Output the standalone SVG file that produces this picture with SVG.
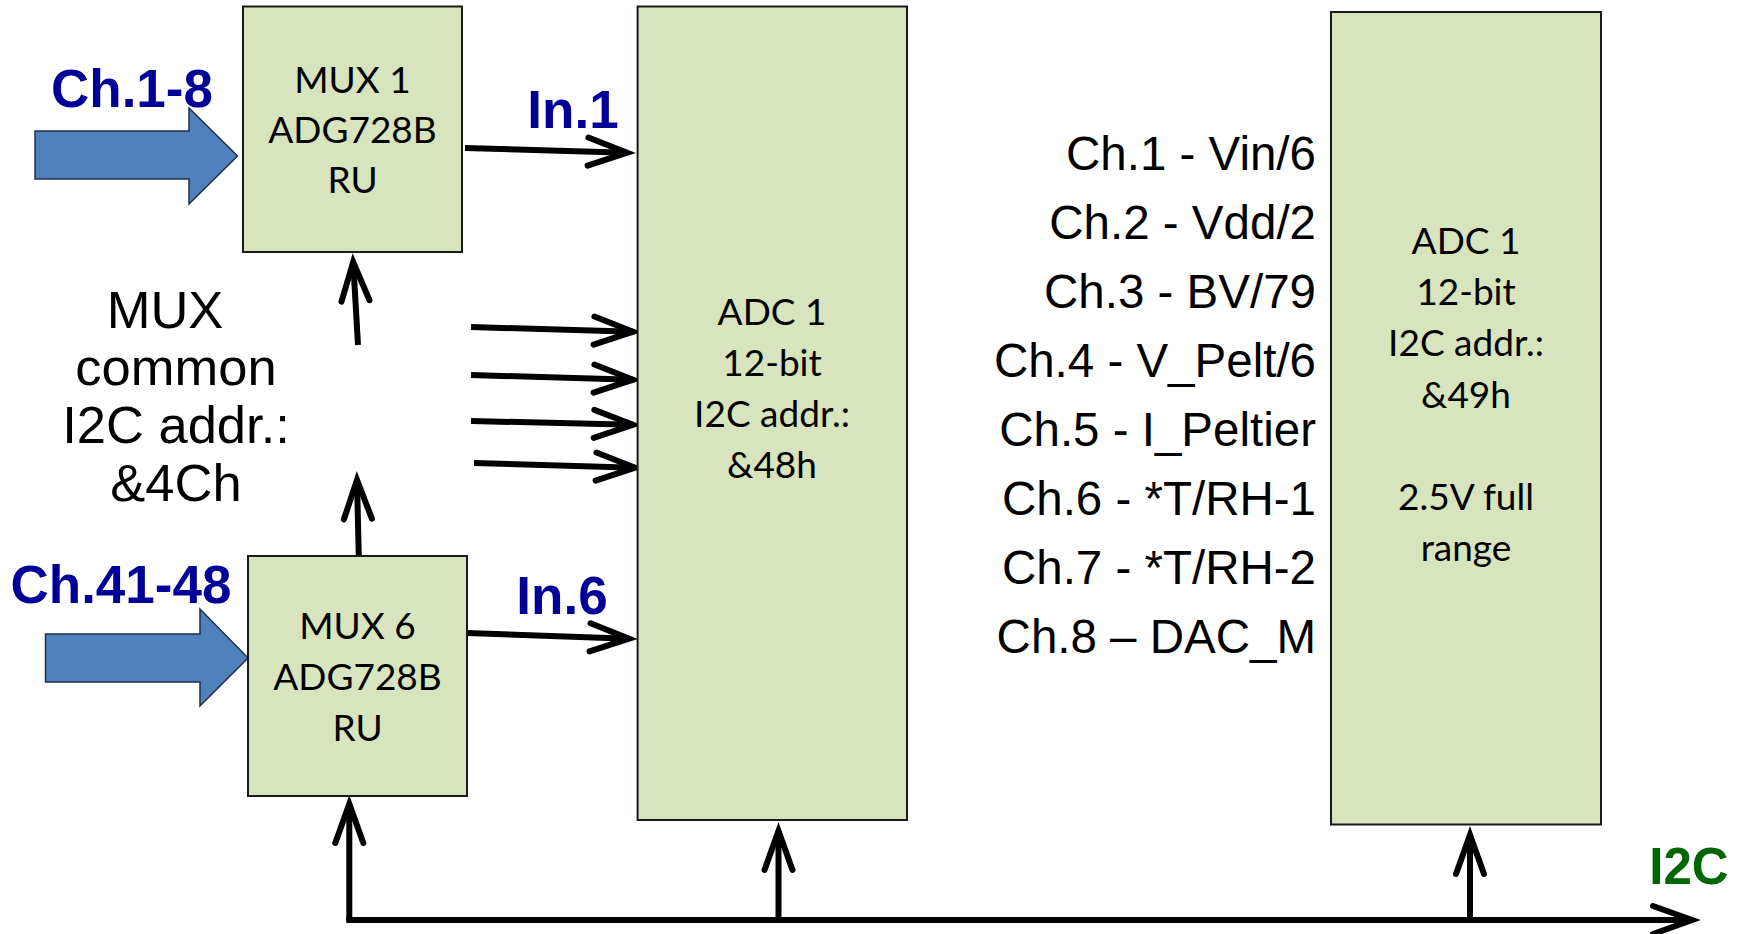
<svg xmlns="http://www.w3.org/2000/svg" width="1747" height="934" viewBox="0 0 1747 934">
<style>
.box{fill:#D7E4BD;stroke:#1a1a1a;stroke-width:2}
.cal{font-family:Lato,"Open Sans","Liberation Sans",sans-serif;font-size:37px;fill:#000;text-anchor:middle}
.ari{font-family:"Liberation Sans",Arial,sans-serif;fill:#000}
.chl{font-size:47.5px;text-anchor:end}
.mux{font-size:52.5px;text-anchor:middle}
.blu{font-family:"Liberation Sans",Arial,sans-serif;font-weight:bold;font-size:53px;fill:#000099}
.grn{font-family:"Liberation Sans",Arial,sans-serif;font-weight:bold;font-size:51px;fill:#006600}
.big{fill:#4F81BD;stroke:#1F2F4A;stroke-width:1.5}
.wire{fill:none;stroke:#000;stroke-width:6;marker-end:url(#ah)}
</style>
<defs>
<marker id="ah" markerUnits="userSpaceOnUse" viewBox="-60 -20 70 40" markerWidth="70" markerHeight="40" refX="-9" refY="0" orient="auto" overflow="visible">
<path d="M-48,-14 L-9,0 L-48,14" fill="none" stroke="#000" stroke-width="6" stroke-linecap="round" stroke-linejoin="miter"/>
</marker>
</defs>
<rect width="1747" height="934" fill="#fff"/>

<g id="connectors">
<polygon class="big" points="35,131 189,131 189,108 237.5,156 189,204 189,179 35,179"/>
<polygon class="big" points="45.5,634 200,634 200,609 248,658 200,706 200,682 45.5,682"/>
<line class="wire" x1="465" y1="148" x2="627" y2="152.7"/>
<line class="wire" x1="471" y1="327" x2="633" y2="331.7"/>
<line class="wire" x1="471" y1="375" x2="633" y2="379.7"/>
<line class="wire" x1="471" y1="421" x2="633" y2="424.8"/>
<line class="wire" x1="474" y1="463" x2="635" y2="467.7"/>
<line class="wire" x1="467" y1="633" x2="629" y2="638.7"/>
<line class="wire" x1="358" y1="345" x2="353.2" y2="262"/>
<line class="wire" x1="358.8" y1="557" x2="357" y2="480"/>
<line class="wire" x1="349.3" y1="921" x2="349.3" y2="804"/>
<line class="wire" x1="778.5" y1="921" x2="778.5" y2="831"/>
<line class="wire" x1="1470" y1="921" x2="1470" y2="835"/>
<line class="wire" x1="346.3" y1="920" x2="1692" y2="920"/>
</g>

<g id="mux1">
<rect class="box" x="243" y="6.5" width="219" height="245.5"/>
<text class="cal" x="352.5" y="93">MUX 1</text>
<text class="cal" x="352.5" y="143">ADG728B</text>
<text class="cal" x="352.5" y="193">RU</text>
</g>

<g id="mux6">
<rect class="box" x="248" y="556" width="219" height="240"/>
<text class="cal" x="357.5" y="639">MUX 6</text>
<text class="cal" x="357.5" y="690">ADG728B</text>
<text class="cal" x="357.5" y="741">RU</text>
</g>

<g id="adc1">
<rect class="box" x="637.6" y="6.5" width="269.4" height="813.5"/>
<text class="cal" x="772" y="325">ADC 1</text>
<text class="cal" x="772" y="376">12-bit</text>
<text class="cal" x="772" y="427">I2C addr.:</text>
<text class="cal" x="772" y="478">&amp;48h</text>
</g>

<g id="adc2">
<rect class="box" x="1331" y="12" width="270" height="812.5"/>
<text class="cal" x="1466" y="254">ADC 1</text>
<text class="cal" x="1466" y="305">12-bit</text>
<text class="cal" x="1466" y="356">I2C addr.:</text>
<text class="cal" x="1466" y="408">&amp;49h</text>
<text class="cal" x="1466" y="510">2.5V full</text>
<text class="cal" x="1466" y="561">range</text>
</g>

<g id="labels">
<text class="blu" x="51" y="107">Ch.1-8</text>
<text class="blu" x="573" y="128" text-anchor="middle">In.1</text>
<text class="blu" x="10.5" y="603">Ch.41-48</text>
<text class="blu" x="562" y="614" text-anchor="middle">In.6</text>
<text class="grn" x="1689" y="884" text-anchor="middle">I2C</text>
</g>

<g id="mux-common">
<text class="ari mux" x="165" y="328">MUX</text>
<text class="ari mux" x="176" y="385">common</text>
<text class="ari mux" x="176" y="443">I2C addr.:</text>
<text class="ari mux" x="176" y="501">&amp;4Ch</text>
</g>

<g id="channels">
<text class="ari chl" x="1316" y="169.5">Ch.1 - Vin/6</text>
<text class="ari chl" x="1316" y="238.5">Ch.2 - Vdd/2</text>
<text class="ari chl" x="1316" y="307.5">Ch.3 - BV/79</text>
<text class="ari chl" x="1316" y="376.5">Ch.4 - V_Pelt/6</text>
<text class="ari chl" x="1316" y="445.5">Ch.5 - I_Peltier</text>
<text class="ari chl" x="1316" y="514.5">Ch.6 - *T/RH-1</text>
<text class="ari chl" x="1316" y="583.5">Ch.7 - *T/RH-2</text>
<text class="ari chl" x="1316" y="652.5">Ch.8 – DAC_M</text>
</g>
</svg>
